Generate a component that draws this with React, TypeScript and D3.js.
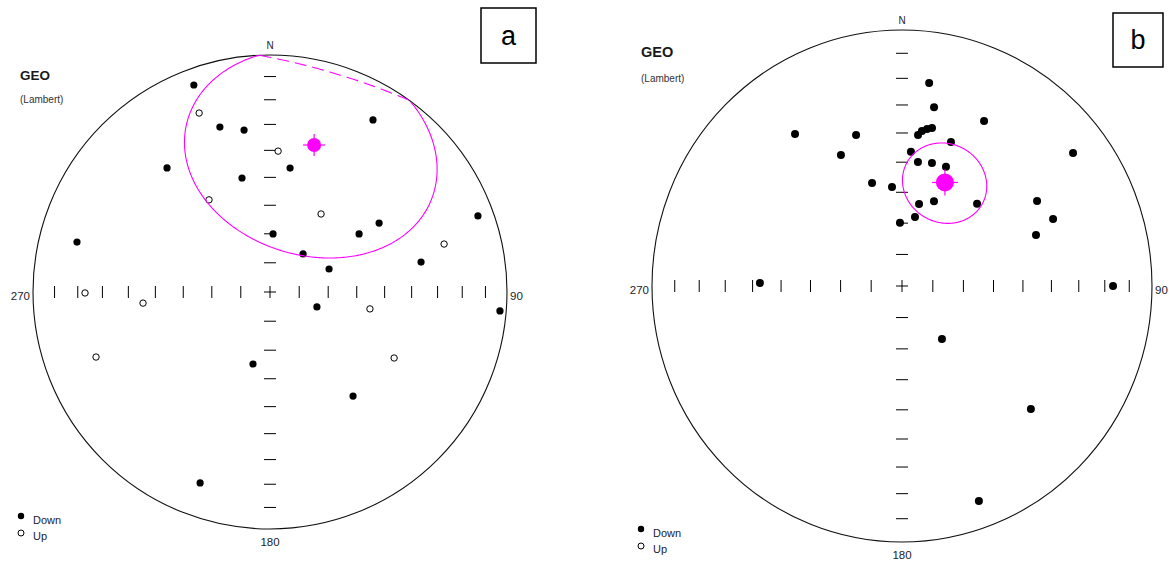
import React from 'react';
import * as d3 from 'd3';

// ---------- shared labels ----------
const tickInclinations = [10, 20, 30, 40, 50, 60, 70, 80];
const directionLabels = ['N', '90', '180', '270'];
const legendLabels = ['Down', 'Up'];
const titleText = 'GEO';
const subtitleText = '(Lambert)';

// ---------- panel a ----------
const decDownA = [339.8, 343.1, 350.9, 9.2, 320.3, 346.2, 3.0, 284.5, 30.9, 57.7, 56.9, 69.9, 41.0, 78.8, 68.7, 107.7, 94.7, 193.3, 200.1, 141.4];
const incDownA = [7.7, 28.1, 31.4, 46.0, 32.5, 49.0, 70.0, 17.0, 16.5, 44.7, 53.0, 7.3, 72.7, 35.3, 68.2, 73.1, 3.0, 64.5, 15.3, 43.2];
const decUpA = [338.4, 3.3, 326.5, 269.7, 265.0, 33.2, 74.6, 99.6, 249.5, 118.0];
const incUpA = [-19.9, -40.2, -51.5, -23.0, -45.3, -57.7, -24.8, -54.8, -22.7, -40.4];
const meanA = [16.7, 35.5, 39.8]; // dec, inc, a95

// ---------- panel b ----------
const decDownB = [7.8, 10.4, 27.0, 6.2, 7.5, 9.3, 11.0, 19.2, 52.8, 3.9, 7.5, 14.0, 20.7, 343.4, 354.1, 21.1, 12.0, 43.1, 58.4, 10.9, 66.6, 358.1, 69.6, 90.0, 324.2, 342.7, 334.5, 271.2, 142.3, 133.0, 159.9];
const incDownB = [21.1, 29.7, 28.5, 40.4, 38.8, 37.9, 37.2, 40.2, 15.2, 46.4, 49.6, 49.0, 48.8, 55.5, 58.1, 60.9, 63.2, 53.8, 36.7, 67.6, 34.5, 69.9, 42.3, 16.7, 27.7, 38.2, 42.7, 42.6, 68.7, 30.2, 11.5];
const decUpB: number[] = [];
const incUpB: number[] = [];
const meanB = [23.0, 53.8, 13.2];

const rad = Math.PI / 180;
function project(dec: number, inc: number): [number, number] {
  const r = Math.SQRT2 * Math.sin(((90 - Math.abs(inc)) / 2) * rad);
  return [r * Math.sin(dec * rad), r * Math.cos(dec * rad)];
}

type Dir = { dec: number; inc: number };
function coneSegments(dec: number, inc: number, a95: number, n = 360) {
  const D = dec * rad, I = inc * rad, a = a95 * rad;
  const m = [Math.cos(I) * Math.cos(D), Math.cos(I) * Math.sin(D), Math.sin(I)];
  const u1 = [Math.sin(I) * Math.cos(D), Math.sin(I) * Math.sin(D), -Math.cos(I)];
  const u2 = [-Math.sin(D), Math.cos(D), 0];
  const pts: Dir[] = [];
  for (let i = 0; i < n; i++) {
    const t = (i / n) * 2 * Math.PI;
    const p = [0, 1, 2].map(k => m[k] * Math.cos(a) + Math.sin(a) * (Math.cos(t) * u1[k] + Math.sin(t) * u2[k]));
    pts.push({ dec: Math.atan2(p[1], p[0]) / rad, inc: Math.asin(Math.max(-1, Math.min(1, p[2]))) / rad });
  }
  let start = -1;
  for (let i = 0; i < n; i++) {
    const prev = pts[(i - 1 + n) % n];
    if ((prev.inc >= 0) !== (pts[i].inc >= 0)) { start = i; break; }
  }
  if (start < 0) return [{ down: pts[0].inc >= 0, pts: [...pts, pts[0]] }];
  const rot = [...pts.slice(start), ...pts.slice(0, start), pts[start]];
  const segs: { down: boolean; pts: Dir[] }[] = [];
  let cur = { down: rot[0].inc >= 0, pts: [rot[0]] };
  for (let i = 1; i < rot.length; i++) {
    const d = rot[i].inc >= 0;
    if (d !== cur.down) {
      cur.pts.push(rot[i]);
      segs.push(cur);
      cur = { down: d, pts: [rot[i]] };
    } else cur.pts.push(rot[i]);
  }
  segs.push(cur);
  return segs;
}

type PanelProps = {
  cx: number; cy: number; rx: number; ry: number;
  decDown: number[]; incDown: number[]; decUp: number[]; incUp: number[];
  mean: number[]; dotR: number; meanR: number; meanTick: number;
  titleX: number; titleY: number; subY: number; titleSize: number;
  legendX: number; legendY: number;
  letter: string; box: [number, number, number, number];
};

function Panel(p: PanelProps) {
  const x = d3.scaleLinear().domain([-1, 1]).range([p.cx - p.rx, p.cx + p.rx]);
  const y = d3.scaleLinear().domain([-1, 1]).range([p.cy + p.ry, p.cy - p.ry]);
  const tickLen = 6;
  const radii = tickInclinations.map(i => project(0, i)[1]);
  const line = d3.line<Dir>().x(d => x(project(d.dec, d.inc)[0])).y(d => y(project(d.dec, d.inc)[1]));
  const segs = coneSegments(p.mean[0], p.mean[1], p.mean[2]);
  const [mx, my] = project(p.mean[0], p.mean[1]);
  const lbl = { fontFamily: 'Liberation Sans, Arial, sans-serif', fontSize: 11.5, fill: '#1c1c2c' };
  return (
    <g>
      <ellipse cx={x(0)} cy={y(0)} rx={p.rx} ry={p.ry} fill="none" stroke="#111" strokeWidth={1.1} />
      {/* ticks */}
      {radii.map((r, i) => (
        <g key={i} stroke="#000" strokeWidth={1}>
          <line x1={x(0) - tickLen} x2={x(0) + tickLen} y1={y(r)} y2={y(r)} />
          <line x1={x(0) - tickLen} x2={x(0) + tickLen} y1={y(-r)} y2={y(-r)} />
          <line x1={x(r)} x2={x(r)} y1={y(0) - tickLen} y2={y(0) + tickLen} />
          <line x1={x(-r)} x2={x(-r)} y1={y(0) - tickLen} y2={y(0) + tickLen} />
        </g>
      ))}
      <g stroke="#000" strokeWidth={1}>
        <line x1={x(0) - tickLen} x2={x(0) + tickLen} y1={y(0)} y2={y(0)} />
        <line x1={x(0)} x2={x(0)} y1={y(0) - tickLen} y2={y(0) + tickLen} />
      </g>
      {/* direction labels */}
      <text x={x(0)} y={y(1) - 6} textAnchor="middle" {...lbl} fontSize={10}>{directionLabels[0]}</text>
      <text x={x(1) + 3} y={y(0) + 8} textAnchor="start" {...lbl}>{directionLabels[1]}</text>
      <text x={x(0)} y={y(-1) + 17} textAnchor="middle" {...lbl}>{directionLabels[2]}</text>
      <text x={x(-1) - 3} y={y(0) + 8} textAnchor="end" {...lbl}>{directionLabels[3]}</text>
      {/* data */}
      {p.decDown.map((d, i) => {
        const [px, py] = project(d, p.incDown[i]);
        return <circle key={'d' + i} cx={x(px)} cy={y(py)} r={p.dotR} fill="#000" />;
      })}
      {p.decUp.map((d, i) => {
        const [px, py] = project(d, p.incUp[i]);
        return <circle key={'u' + i} cx={x(px)} cy={y(py)} r={p.dotR - 0.4} fill="#fff" stroke="#000" strokeWidth={1} />;
      })}
      {/* confidence cone */}
      {segs.map((s, i) => (
        <path key={'c' + i} d={line(s.pts) || ''} fill="none" stroke="#ff00ff" strokeWidth={1.1}
          strokeDasharray={s.down ? undefined : '12,6'} />
      ))}
      {/* mean */}
      <g stroke="#ff00ff" strokeWidth={1.2}>
        <line x1={x(mx) - p.meanTick} x2={x(mx) + p.meanTick} y1={y(my)} y2={y(my)} />
        <line x1={x(mx)} x2={x(mx)} y1={y(my) - p.meanTick} y2={y(my) + p.meanTick} />
      </g>
      <circle cx={x(mx)} cy={y(my)} r={p.meanR} fill="#ff00ff" />
      {/* title */}
      <text x={p.titleX} y={p.titleY} fontFamily="Liberation Sans, Arial, sans-serif" fontWeight="bold" fontSize={p.titleSize} fill="#1a1a1a">{titleText}</text>
      <text x={p.titleX} y={p.subY} fontFamily="Liberation Sans, Arial, sans-serif" fontSize={10} fill="#333">{subtitleText}</text>
      {/* legend */}
      <circle cx={p.legendX} cy={p.legendY} r={3.2} fill="#000" />
      <text x={p.legendX + 12} y={p.legendY + 8} {...lbl} fontSize={11}>{legendLabels[0]}</text>
      <circle cx={p.legendX} cy={p.legendY + 17} r={3} fill="#fff" stroke="#000" strokeWidth={1} />
      <text x={p.legendX + 12} y={p.legendY + 24} {...lbl} fontSize={11}>{legendLabels[1]}</text>
      {/* panel letter */}
      <rect x={p.box[0]} y={p.box[1]} width={p.box[2]} height={p.box[3]} fill="#fff" stroke="#000" strokeWidth={1.5} />
      <text x={p.box[0] + p.box[2] / 2} y={p.box[1] + p.box[3] / 2 + 9} textAnchor="middle"
        fontFamily="Liberation Sans, Arial, sans-serif" fontSize={27} fill="#000">{p.letter}</text>
    </g>
  );
}

export default function App() {
  return (
    <svg width={1169} height={561} style={{ position: 'absolute', left: 0, top: 0, display: 'block', background: '#fff' }}>
      <rect x={0} y={0} width={1169} height={561} fill="#fff" />
      <Panel cx={270} cy={292} rx={237} ry={237}
        decDown={decDownA} incDown={incDownA} decUp={decUpA} incUp={incUpA}
        mean={meanA} dotR={3.6} meanR={7} meanTick={11}
        titleX={20} titleY={80} subY={103} titleSize={13.5}
        legendX={21} legendY={516}
        letter="a" box={[481, 8, 55, 55]} />
      <Panel cx={902} cy={286} rx={250} ry={256}
        decDown={decDownB} incDown={incDownB} decUp={decUpB} incUp={incUpB}
        mean={meanB} dotR={4} meanR={9} meanTick={13}
        titleX={641} titleY={57} subY={82} titleSize={14.5}
        legendX={641} legendY={529}
        letter="b" box={[1113, 13, 50, 54]} />
    </svg>
  );
}
